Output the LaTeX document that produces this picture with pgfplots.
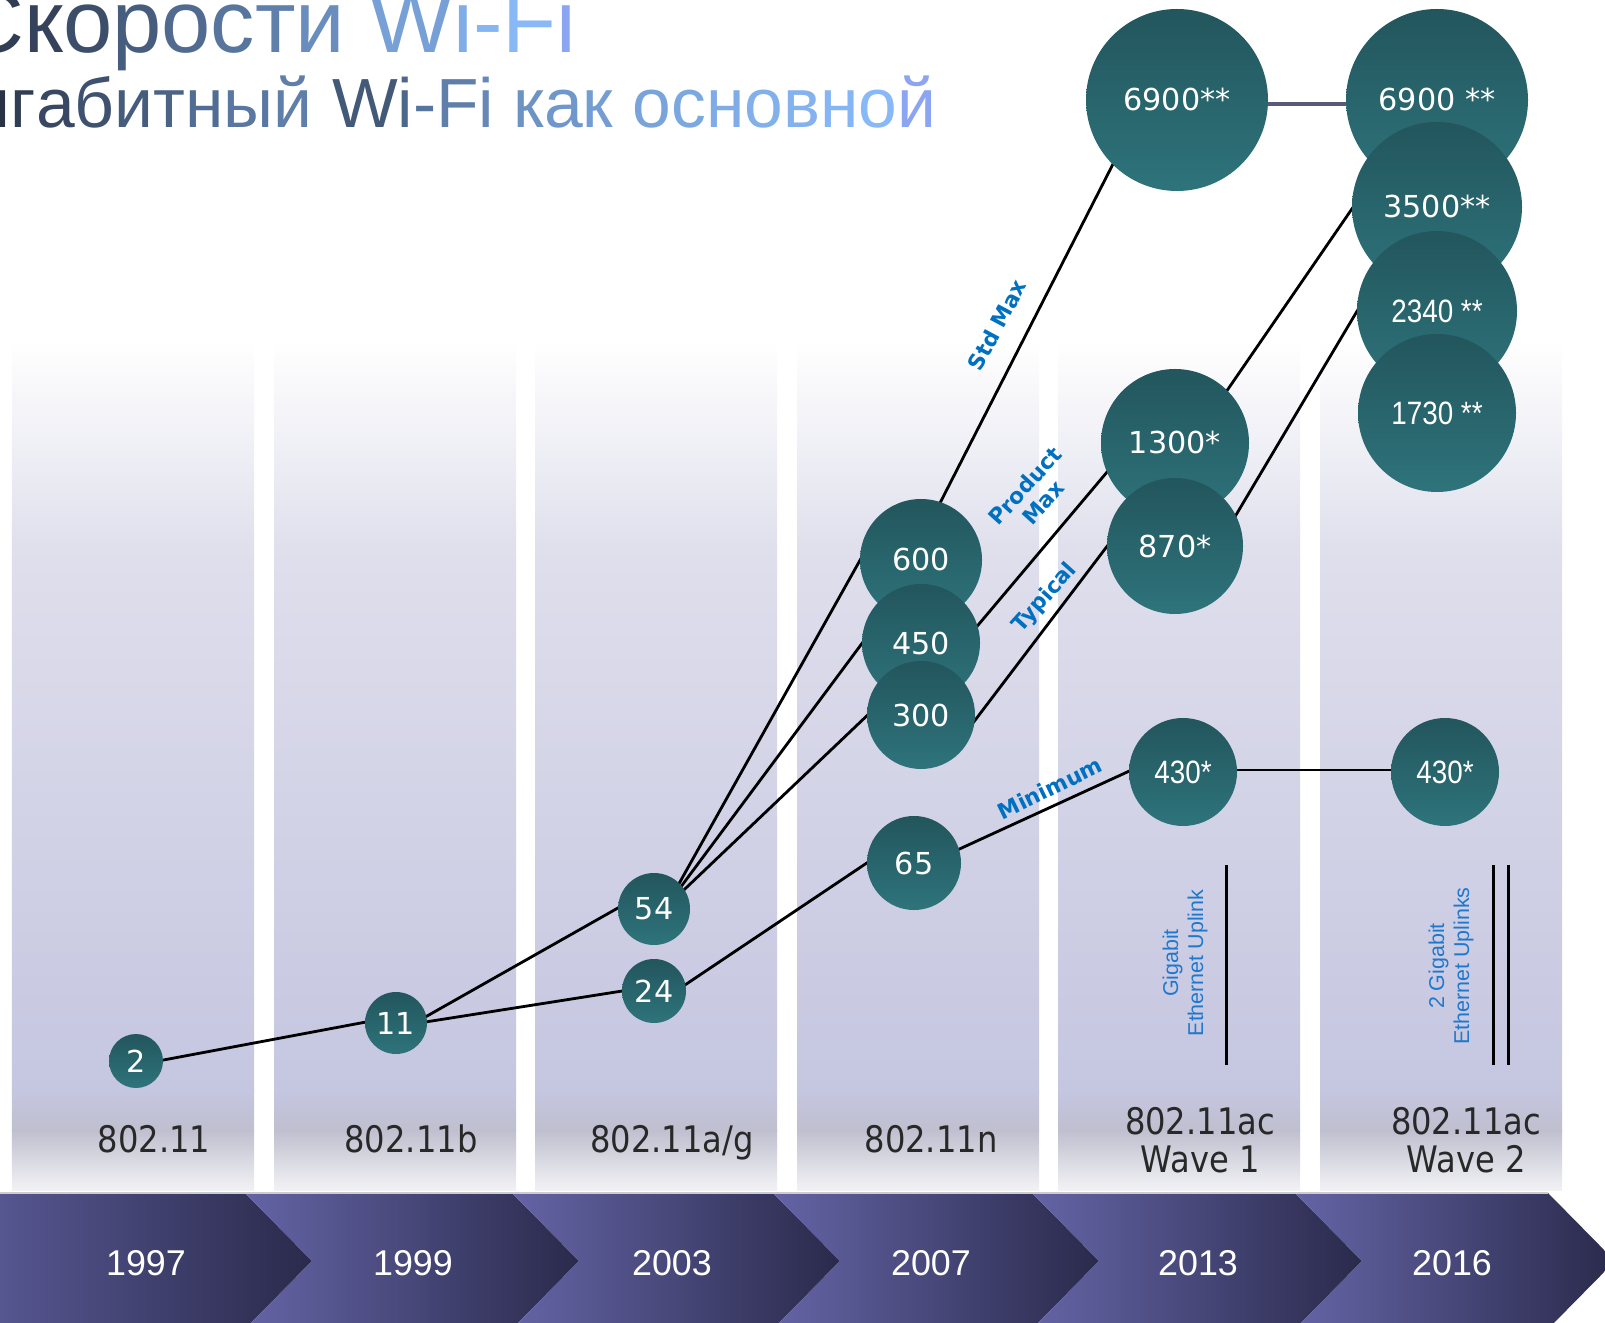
\documentclass[border=0pt]{standalone}
\usepackage{pgfplots}
\pgfplotsset{compat=1.18}
\usepackage{fontspec}
\setmainfont{Liberation Sans}
\newfontfamily\dv{DejaVu Sans}
\newfontfamily\dvc[FakeStretch=0.88]{DejaVu Sans}
\newfontfamily\arn[FakeStretch=0.86]{Liberation Sans}

\definecolor{bubtop}{RGB}{29,70,77}
\definecolor{bubbot}{RGB}{52,131,139}
\definecolor{panA}{RGB}{222,222,236}
\definecolor{panB}{RGB}{197,198,224}
\definecolor{panC}{RGB}{191,191,207}
\definecolor{panD}{RGB}{242,242,245}
\definecolor{chL}{RGB}{100,100,166}
\definecolor{chM}{RGB}{72,72,122}
\definecolor{chR}{RGB}{42,42,76}
\definecolor{labblue}{RGB}{0,112,192}
\definecolor{upblue}{RGB}{30,120,205}
\definecolor{stdgray}{RGB}{40,40,40}
\definecolor{tA}{RGB}{38,48,66}
\definecolor{tB}{RGB}{136,184,246}
\definecolor{tV}{RGB}{140,165,242}
\definecolor{linkgray}{RGB}{90,90,120}

\pgfdeclareverticalshading{bubsh}{100bp}{color(0bp)=(bubbot); color(100bp)=(bubtop)}
\pgfdeclareplotmark{bubble}{\pgfpathcircle{\pgfpointorigin}{\pgfplotmarksize}\pgfshadepath{bubsh}{0}\pgfusepath{}}

\newcommand\g[2]{\textcolor{tB!#1!tA}{#2}}
\newcommand\fb{\dv\fontsize{8.6}{10}\selectfont}
\newcommand\fa{\arn\fontsize{9.2}{11}\selectfont}
\newcommand\fl{\dv\bfseries\fontsize{6.2}{7}\selectfont}
\newcommand\fu{\fontsize{6.1}{7.1}\selectfont}
\newcommand\fs{\dvc\fontsize{10.4}{12}\selectfont}
\newcommand\fy{\fontsize{10.2}{12}\selectfont}

\newcommand{\bub}[5]{%
  \addplot[only marks, mark=bubble, mark size={#3*0.28453pt},
    nodes near coords={#4},
    every node near coord/.append style={anchor=center, text=white, inner sep=0pt, font=#5}]
    coordinates {(#1,#2)};}
\newcommand{\panel}[2]{%
  \addplot[draw=none, top color=white, bottom color=panA] coordinates {(#1,340)(#2,340)(#2,561)(#1,561)};
  \addplot[draw=none, top color=panA, bottom color=panB] coordinates {(#1,560)(#2,560)(#2,1091)(#1,1091)};
  \addplot[draw=none, top color=panB, bottom color=panC] coordinates {(#1,1090)(#2,1090)(#2,1131)(#1,1131)};
  \addplot[draw=none, top color=panC, bottom color=panD] coordinates {(#1,1130)(#2,1130)(#2,1190)(#1,1190)};}
\newcommand{\seg}[4]{\addplot[black, line width=0.8pt] coordinates {(#1,#2)(#3,#4)};}

\begin{document}
\begin{tikzpicture}
\path[use as bounding box] (0,0) rectangle (16.05cm,13.23cm);
\begin{axis}[at={(0,0)}, anchor=south west, scale only axis,
  width=16.05cm, height=13.23cm, xmin=0, xmax=1605, ymin=0, ymax=1323,
  y dir=reverse, hide axis, clip=false]
% column panels
\panel{12}{254}
\panel{274}{516}
\panel{535}{777}
\panel{797}{1039}
\panel{1058}{1300}
\panel{1320}{1562}
% chevrons
\addplot[draw=none, left color=chL, middle color=chM, right color=chR] coordinates {(-100,1193)(245,1193)(312,1261)(245,1329)(-100,1329)(-33,1261)};
\addplot[draw=none, left color=chL, middle color=chM, right color=chR] coordinates {(245,1193)(512,1193)(579,1261)(512,1329)(245,1329)(312,1261)};
\addplot[draw=none, left color=chL, middle color=chM, right color=chR] coordinates {(512,1193)(773,1193)(840,1261)(773,1329)(512,1329)(579,1261)};
\addplot[draw=none, left color=chL, middle color=chM, right color=chR] coordinates {(773,1193)(1032,1193)(1099,1261)(1032,1329)(773,1329)(840,1261)};
\addplot[draw=none, left color=chL, middle color=chM, right color=chR] coordinates {(1032,1193)(1295,1193)(1362,1261)(1295,1329)(1032,1329)(1099,1261)};
\addplot[draw=none, left color=chL, middle color=chM, right color=chR] coordinates {(1295,1193)(1548,1193)(1615,1261)(1548,1329)(1295,1329)(1362,1261)};
\addplot[draw=black!20, line width=0.4pt] coordinates {(0,1193)(1548,1193)};
% connecting lines
\seg{157.6}{1061.1}{371.9}{1020.9}
\seg{421.6}{1022.6}{629.9}{989.8}
\seg{422.3}{1018.7}{623.2}{905}
\seg{677}{887.2}{863.6}{553.8}
\seg{680}{888}{866.6}{637.2}
\seg{682.7}{891.1}{872}{710.9}
\seg{680}{988.3}{871.7}{859.7}
\seg{956.2}{850.5}{1133.8}{769}
\seg{1230}{770}{1398}{770}
\seg{936.3}{510.3}{1114.7}{160.7}
\seg{967.8}{637.3}{1113.9}{463.9}
\seg{973.1}{722.8}{1110.9}{541.2}
\seg{1220.6}{399.9}{1356.1}{202.8}
\seg{1232.9}{520.2}{1359.8}{306.5}
\addplot[linkgray, line width=0.9pt] coordinates {(1262,104)(1352,104)};
% uplink bars
\addplot[black, line width=0.85pt] coordinates {(1226,865)(1226,1065)};
\addplot[black, line width=0.85pt] coordinates {(1493,865)(1493,1065)};
\addplot[black, line width=0.85pt] coordinates {(1508,865)(1508,1065)};
% bubbles
\bub{136}{1061}{27}{2}{\fb}
\bub{396}{1023}{31}{11}{\fb}
\bub{654}{909}{36}{54}{\fb}
\bub{654}{991}{32}{24}{\fb}
\bub{921}{560}{61}{600}{\fb}
\bub{921}{643}{59}{450}{\fb}
\bub{921}{715}{54}{300}{\fb}
\bub{914}{863}{47}{65}{\fb}
\bub{1177}{100}{91}{6900**}{\fb}
\bub{1175}{443}{74}{1300*}{\fb}
\bub{1175}{546}{68}{870*}{\fb}
\bub{1183}{772}{54}{430*}{\fa}
\bub{1437}{100}{91}{6900 **}{\fb}
\bub{1437}{207}{85}{3500**}{\fb}
\bub{1437}{311}{80}{2340 **}{\fa}
\bub{1437}{413}{79}{1730 **}{\fa}
\bub{1445}{772}{54}{430*}{\fa}
% series labels
\node[rotate=62, text=labblue, font=\fl] at (axis cs:997,325) {Std Max};
\node[rotate=48, text=labblue, font=\fl, align=center] at (axis cs:1034,494) {Product\\Max};
\node[rotate=48, text=labblue, font=\fl] at (axis cs:1045,598) {Typical};
\node[rotate=26, text=labblue, font=\fl] at (axis cs:1050,788) {Minimum};
% uplink labels
\node[rotate=90, text=upblue, font=\fu, align=center] at (axis cs:1185,963) {Gigabit\\Ethernet Uplink};
\node[rotate=90, text=upblue, font=\fu, align=center] at (axis cs:1451,966) {2 Gigabit\\Ethernet Uplinks};
% standards
\node[anchor=base, text=stdgray, font=\fs] at (axis cs:154,1152) {802.11};
\node[anchor=base, text=stdgray, font=\fs] at (axis cs:411,1152) {802.11b};
\node[anchor=base, text=stdgray, font=\fs] at (axis cs:672,1152) {802.11a/g};
\node[anchor=base, text=stdgray, font=\fs] at (axis cs:931,1152) {802.11n};
\node[anchor=base, text=stdgray, font=\fs] at (axis cs:1200,1134) {802.11ac};
\node[anchor=base, text=stdgray, font=\fs] at (axis cs:1200,1172) {Wave 1};
\node[anchor=base, text=stdgray, font=\fs] at (axis cs:1466,1134) {802.11ac};
\node[anchor=base, text=stdgray, font=\fs] at (axis cs:1466,1172) {Wave 2};
% years
\node[anchor=base, text=white, font=\fy] at (axis cs:146,1275) {1997};
\node[anchor=base, text=white, font=\fy] at (axis cs:413,1275) {1999};
\node[anchor=base, text=white, font=\fy] at (axis cs:672,1275) {2003};
\node[anchor=base, text=white, font=\fy] at (axis cs:931,1275) {2007};
\node[anchor=base, text=white, font=\fy] at (axis cs:1198,1275) {2013};
\node[anchor=base, text=white, font=\fy] at (axis cs:1452,1275) {2016};
% title
\node[anchor=base east, inner sep=0pt, font=\fontsize{25.2}{29}\selectfont] at (axis cs:577,52.7)
 {\g{10}{С}\g{14}{к}\g{22}{о}\g{33}{р}\g{43}{о}\g{51}{с}\g{59}{т}\g{68}{и} \g{82}{W}\g{92}{i}\g{98}{-}\g{100}{F}\textcolor{tV}{i}};
\node[anchor=base east, inner sep=0pt, font=\fontsize{19.8}{24}\selectfont] at (axis cs:937,128)
 {\g{0}{Г}\g{2}{и}\g{10}{г}\g{18}{а}\g{25}{б}\g{32}{и}\g{38}{т}\g{45}{н}\g{52}{ы}\g{58}{й} \g{30}{W}\g{40}{i}\g{50}{-}\g{58}{F}\g{65}{i} \g{72}{к}\g{76}{а}\g{80}{к} \g{85}{о}\g{88}{с}\g{91}{н}\g{94}{о}\g{96}{в}\g{98}{н}\g{100}{о}\textcolor{tV}{й}};
\end{axis}
\end{tikzpicture}
\end{document}
